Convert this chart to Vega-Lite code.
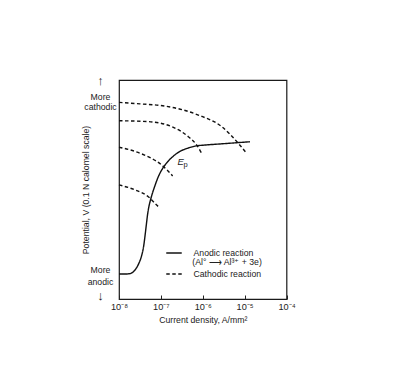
{
  "$schema": "https://vega.github.io/schema/vega-lite/v6.json",
  "width": 167.5,
  "height": 219,
  "autosize": {"type": "none"},
  "padding": {"left": 119, "top": 80, "right": 113.5, "bottom": 86},
  "background": "white",
  "config": {
    "view": {"stroke": "#1a1a1a", "strokeWidth": 1.2},
    "font": "Liberation Sans",
    "axis": {"grid": false, "domain": false, "labelColor": "#222", "titleColor": "#222", "titleFontWeight": "normal", "labelFontSize": 8.7, "titleFontSize": 8.7, "labelFont": "Liberation Sans", "titleFont": "Liberation Sans"},
    "legend": {"labelFont": "Liberation Sans"}
  },
  "layer": [
    {
      "data": {"values": [
        {"j": 1e-8, "v": 11.4, "curve": "A", "reaction": "Anodic reaction"},
        {"j": 1.47e-8, "v": 11.4, "curve": "A", "reaction": "Anodic reaction"},
        {"j": 1.83e-8, "v": 11.6, "curve": "A", "reaction": "Anodic reaction"},
        {"j": 2.16e-8, "v": 12.3, "curve": "A", "reaction": "Anodic reaction"},
        {"j": 2.55e-8, "v": 13.9, "curve": "A", "reaction": "Anodic reaction"},
        {"j": 3.00e-8, "v": 16.4, "curve": "A", "reaction": "Anodic reaction"},
        {"j": 3.45e-8, "v": 19.6, "curve": "A", "reaction": "Anodic reaction"},
        {"j": 3.85e-8, "v": 23.7, "curve": "A", "reaction": "Anodic reaction"},
        {"j": 4.18e-8, "v": 28.8, "curve": "A", "reaction": "Anodic reaction"},
        {"j": 4.49e-8, "v": 33.8, "curve": "A", "reaction": "Anodic reaction"},
        {"j": 4.80e-8, "v": 38.4, "curve": "A", "reaction": "Anodic reaction"},
        {"j": 5.15e-8, "v": 42.0, "curve": "A", "reaction": "Anodic reaction"},
        {"j": 5.65e-8, "v": 45.2, "curve": "A", "reaction": "Anodic reaction"},
        {"j": 6.31e-8, "v": 48.4, "curve": "A", "reaction": "Anodic reaction"},
        {"j": 7.24e-8, "v": 51.8, "curve": "A", "reaction": "Anodic reaction"},
        {"j": 8.54e-8, "v": 55.5, "curve": "A", "reaction": "Anodic reaction"},
        {"j": 1.06e-7, "v": 59.1, "curve": "A", "reaction": "Anodic reaction"},
        {"j": 1.40e-7, "v": 62.3, "curve": "A", "reaction": "Anodic reaction"},
        {"j": 1.95e-7, "v": 65.1, "curve": "A", "reaction": "Anodic reaction"},
        {"j": 2.86e-7, "v": 67.4, "curve": "A", "reaction": "Anodic reaction"},
        {"j": 4.45e-7, "v": 68.9, "curve": "A", "reaction": "Anodic reaction"},
        {"j": 6.90e-7, "v": 69.9, "curve": "A", "reaction": "Anodic reaction"},
        {"j": 1.13e-6, "v": 70.3, "curve": "A", "reaction": "Anodic reaction"},
        {"j": 2.58e-6, "v": 70.8, "curve": "A", "reaction": "Anodic reaction"},
        {"j": 5.89e-6, "v": 71.3, "curve": "A", "reaction": "Anodic reaction"},
        {"j": 1.34e-5, "v": 71.8, "curve": "A", "reaction": "Anodic reaction"},
        {"j": 1e-8, "v": 89.8, "curve": "C1", "reaction": "Cathodic reaction"},
        {"j": 3.18e-8, "v": 89.1, "curve": "C1", "reaction": "Cathodic reaction"},
        {"j": 1.26e-7, "v": 88.1, "curve": "C1", "reaction": "Cathodic reaction"},
        {"j": 7.84e-7, "v": 84.0, "curve": "C1", "reaction": "Cathodic reaction"},
        {"j": 2.84e-6, "v": 78.7, "curve": "C1", "reaction": "Cathodic reaction"},
        {"j": 7.06e-6, "v": 71.1, "curve": "C1", "reaction": "Cathodic reaction"},
        {"j": 1.12e-5, "v": 66.5, "curve": "C1", "reaction": "Cathodic reaction"},
        {"j": 1e-8, "v": 81.4, "curve": "C2", "reaction": "Cathodic reaction"},
        {"j": 5.01e-8, "v": 81.0, "curve": "C2", "reaction": "Cathodic reaction"},
        {"j": 1.82e-7, "v": 78.7, "curve": "C2", "reaction": "Cathodic reaction"},
        {"j": 4.52e-7, "v": 74.1, "curve": "C2", "reaction": "Cathodic reaction"},
        {"j": 7.18e-7, "v": 70.3, "curve": "C2", "reaction": "Cathodic reaction"},
        {"j": 9.44e-7, "v": 66.5, "curve": "C2", "reaction": "Cathodic reaction"},
        {"j": 1e-8, "v": 69.3, "curve": "C3", "reaction": "Cathodic reaction"},
        {"j": 3.35e-8, "v": 66.4, "curve": "C3", "reaction": "Cathodic reaction"},
        {"j": 1.01e-7, "v": 61.4, "curve": "C3", "reaction": "Cathodic reaction"},
        {"j": 1.38e-7, "v": 59.1, "curve": "C3", "reaction": "Cathodic reaction"},
        {"j": 1.91e-7, "v": 56.2, "curve": "C3", "reaction": "Cathodic reaction"},
        {"j": 1e-8, "v": 52.1, "curve": "C4", "reaction": "Cathodic reaction"},
        {"j": 2.41e-8, "v": 49.8, "curve": "C4", "reaction": "Cathodic reaction"},
        {"j": 5.01e-8, "v": 46.7, "curve": "C4", "reaction": "Cathodic reaction"},
        {"j": 7.94e-8, "v": 42.9, "curve": "C4", "reaction": "Cathodic reaction"},
        {"j": 9.02e-8, "v": 41.9, "curve": "C4", "reaction": "Cathodic reaction"}
      ]},
      "mark": {"type": "line", "interpolate": "monotone", "stroke": "#111", "strokeWidth": 1.4},
      "encoding": {
        "x": {
          "field": "j", "type": "quantitative",
          "scale": {"type": "log", "domain": [1e-8, 1e-4], "nice": false},
          "axis": {
            "title": "Current density, A/mm²",
            "values": [1e-8, 1e-7, 1e-6, 1e-5, 1e-4],
            "labelExpr": "round(log(datum.value)/LN10) == -8 ? '10⁻⁸' : round(log(datum.value)/LN10) == -7 ? '10⁻⁷' : round(log(datum.value)/LN10) == -6 ? '10⁻⁶' : round(log(datum.value)/LN10) == -5 ? '10⁻⁵' : '10⁻⁴'",
            "labelFontSize": 9.2,
            "tickSize": -4,
            "tickColor": "#222",
            "labelPadding": 7,
            "labelFlush": false,
            "labelOverlap": false,
            "titlePadding": 4
          }
        },
        "y": {
          "field": "v", "type": "quantitative",
          "scale": {"domain": [0, 100], "nice": false},
          "axis": {
            "title": "Potential, V (0.1 N calomel scale)",
            "values": [99.8, 92.6, 88.1, 13.6, 8.2, 1.8],
            "labelExpr": "datum.value > 99 ? '↑' : datum.value > 90 ? 'More' : datum.value > 50 ? 'cathodic' : datum.value > 10 ? 'More' : datum.value > 5 ? 'anodic' : '↓'",
            "ticks": false,
            "tickSize": 0,
            "labelAlign": "center",
            "labelBaseline": "middle",
            "labelPadding": 19,
            "labelOverlap": false,
            "labelFlush": false,
            "labelFontSize": {"condition": {"test": "datum.value > 99 || datum.value < 3", "value": 13}, "value": 8.7},
            "titleX": -34,
            "titleY": 109.5,
            "titleBaseline": "middle",
            "titleAngle": 270
          }
        },
        "detail": {"field": "curve", "type": "nominal"},
        "strokeDash": {
          "field": "reaction", "type": "nominal",
          "scale": {"domain": ["Anodic reaction", "Cathodic reaction"], "range": [[1, 0], [3.5, 2.5]]},
          "legend": {
            "orient": "none",
            "legendX": 46.5,
            "legendY": 164.5,
            "title": null,
            "padding": 0,
            "symbolType": "stroke",
            "symbolSize": 240,
            "symbolStrokeColor": "#111",
            "symbolStrokeWidth": 1.4,
            "labelFontSize": 8.7,
            "labelColor": "#222",
            "labelOffset": 11,
            "rowPadding": 7
          }
        }
      }
    },
    {
      "data": {"values": [{"j": 2.49e-7, "v": 62.6, "label": "E"}]},
      "mark": {"type": "text", "align": "left", "baseline": "middle", "fontSize": 9.5, "fontStyle": "italic", "color": "#222", "font": "Liberation Sans"},
      "encoding": {
        "x": {"field": "j", "type": "quantitative"},
        "y": {"field": "v", "type": "quantitative"},
        "text": {"field": "label"}
      }
    },
    {
      "data": {"values": [{"j": 3.47e-7, "v": 61.4, "label": "p"}]},
      "mark": {"type": "text", "align": "left", "baseline": "middle", "fontSize": 7.5, "color": "#222", "font": "Liberation Sans"},
      "encoding": {
        "x": {"field": "j", "type": "quantitative"},
        "y": {"field": "v", "type": "quantitative"},
        "text": {"field": "label"}
      }
    },
    {
      "data": {"values": [{"j": 5.62e-7, "v": 16.7, "label": "(Al° ⟶ Al³⁺ + 3e)"}]},
      "mark": {"type": "text", "align": "left", "baseline": "middle", "fontSize": 8.7, "color": "#222", "font": "Liberation Sans"},
      "encoding": {
        "x": {"field": "j", "type": "quantitative"},
        "y": {"field": "v", "type": "quantitative"},
        "text": {"field": "label"}
      }
    }
  ]
}
